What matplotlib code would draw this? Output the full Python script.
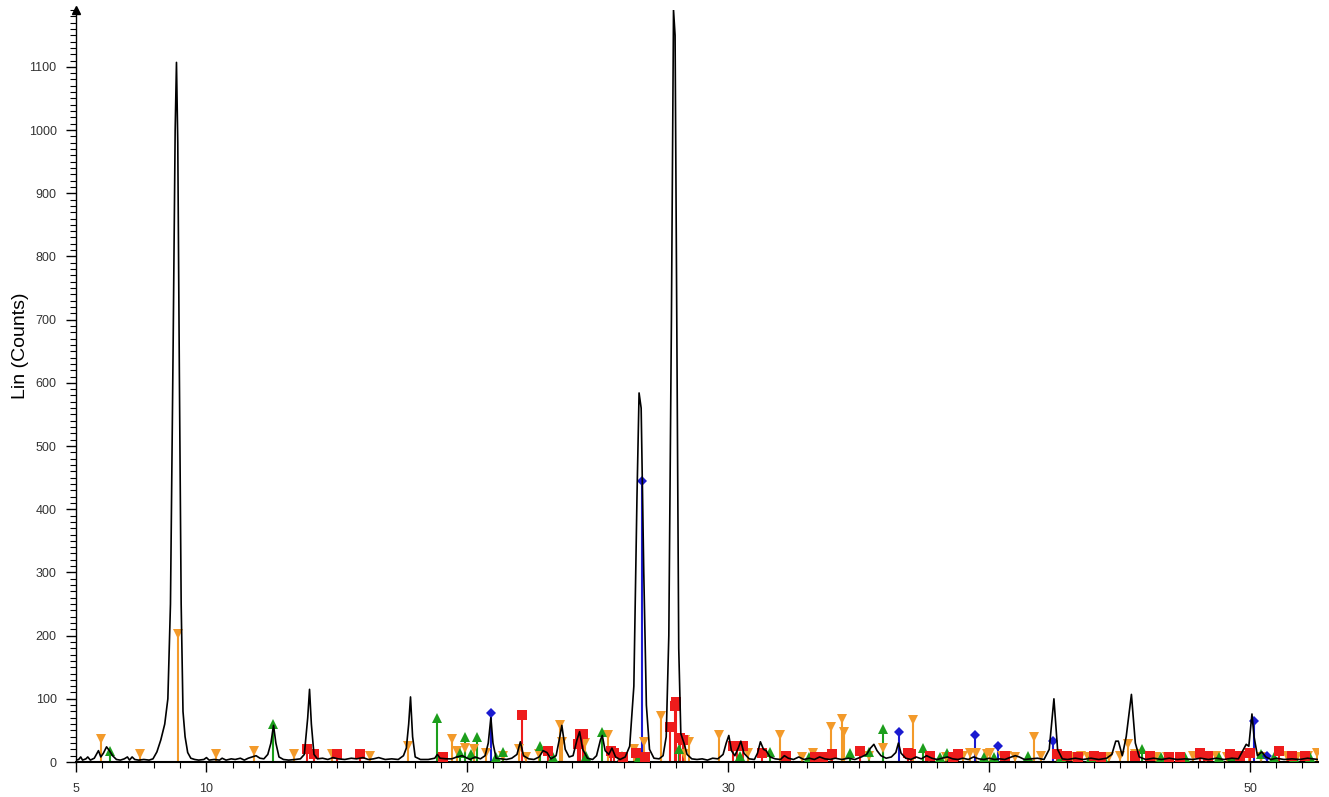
import matplotlib
matplotlib.use("Agg")
import matplotlib.pyplot as plt
from matplotlib.ticker import MultipleLocator, FixedLocator

plt.rcParams['font.family'] = ['Liberation Sans', 'DejaVu Sans']

# measured pattern (2theta, counts)
trace_2theta = [
    5.00, 5.10, 5.18, 5.25, 5.38, 5.45, 5.55, 5.70, 5.86, 5.95,
    6.05, 6.17, 6.28, 6.40, 6.55, 6.70, 6.85, 6.97, 7.05, 7.15,
    7.25, 7.40, 7.60, 7.80, 7.95, 8.10, 8.25, 8.40, 8.52, 8.62,
    8.72, 8.80, 8.85, 8.90, 8.96, 9.03, 9.10, 9.18, 9.28, 9.40,
    9.55, 9.70, 9.90, 10.00, 10.10, 10.30, 10.50, 10.60, 10.75, 10.95,
    11.10, 11.30, 11.45, 11.60, 11.75, 11.90, 12.05, 12.20, 12.35, 12.47,
    12.57, 12.66, 12.78, 12.95, 13.15, 13.40, 13.60, 13.75, 13.88, 13.95,
    14.02, 14.12, 14.25, 14.45, 14.65, 14.85, 15.05, 15.30, 15.55, 15.75,
    16.00, 16.20, 16.40, 16.60, 16.85, 17.10, 17.35, 17.55, 17.66, 17.75,
    17.82, 17.90, 18.00, 18.20, 18.50, 18.75, 18.85, 18.95, 19.20, 19.40,
    19.60, 19.80, 19.95, 20.10, 20.30, 20.50, 20.68, 20.80, 20.90, 20.98,
    21.10, 21.30, 21.50, 21.70, 21.90, 22.03, 22.15, 22.35, 22.55, 22.75,
    22.90, 23.05, 23.20, 23.40, 23.52, 23.62, 23.75, 23.90, 24.05, 24.20,
    24.30, 24.42, 24.60, 24.80, 24.95, 25.10, 25.17, 25.28, 25.42, 25.54,
    25.68, 25.85, 26.05, 26.22, 26.38, 26.50, 26.58, 26.66, 26.76, 26.86,
    26.98, 27.15, 27.35, 27.50, 27.62, 27.72, 27.82, 27.90, 27.96, 28.03,
    28.10, 28.18, 28.30, 28.42, 28.60, 28.80, 29.00, 29.20, 29.40, 29.60,
    29.80, 29.92, 30.02, 30.12, 30.25, 30.38, 30.48, 30.60, 30.80, 31.00,
    31.12, 31.23, 31.35, 31.45, 31.60, 31.80, 32.00, 32.15, 32.30, 32.50,
    32.70, 32.90, 33.10, 33.30, 33.50, 33.70, 33.90, 34.10, 34.35, 34.60,
    34.85, 35.10, 35.30, 35.45, 35.58, 35.70, 35.85, 36.05, 36.25, 36.42,
    36.52, 36.62, 36.80, 37.00, 37.20, 37.40, 37.60, 37.80, 38.00, 38.20,
    38.40, 38.60, 38.80, 39.00, 39.20, 39.40, 39.60, 39.80, 40.00, 40.20,
    40.40, 40.60, 40.85, 41.00, 41.15, 41.35, 41.60, 41.85, 42.10, 42.30,
    42.48, 42.62, 42.80, 43.00, 43.30, 43.60, 43.90, 44.20, 44.50, 44.70,
    44.85, 44.95, 45.10, 45.25, 45.45, 45.60, 45.75, 46.00, 46.30, 46.60,
    46.90, 47.20, 47.50, 47.80, 48.10, 48.40, 48.70, 49.00, 49.30, 49.55,
    49.72, 49.85, 49.95, 50.07, 50.15, 50.28, 50.45, 50.60, 50.80, 51.00,
    51.30, 51.60, 51.90, 52.20, 52.60,
]
trace_counts = [
    3, 4, 8, 3, 5, 8, 3, 6, 18, 8,
    14, 24, 18, 10, 4, 3, 5, 8, 3, 8,
    4, 3, 4, 3, 5, 16, 35, 60, 100, 250,
    650, 1000, 1107, 980, 620, 250, 80, 40, 15, 6,
    4, 3, 4, 7, 3, 4, 3, 6, 3, 5,
    4, 6, 3, 6, 8, 10, 6, 5, 12, 30,
    58, 30, 8, 4, 3, 4, 5, 12, 70, 115,
    60, 12, 5, 6, 4, 7, 5, 4, 6, 5,
    7, 4, 5, 7, 4, 5, 4, 10, 22, 60,
    103, 40, 8, 4, 4, 6, 12, 6, 5, 5,
    8, 10, 7, 4, 8, 5, 10, 30, 70, 30,
    6, 5, 4, 6, 12, 32, 10, 5, 4, 8,
    18, 15, 5, 10, 35, 58, 20, 8, 10, 35,
    48, 20, 6, 4, 10, 35, 42, 18, 12, 22,
    8, 4, 8, 25, 120, 420, 584, 560, 300, 90,
    20, 6, 5, 10, 40, 200, 700, 1190, 1150, 650,
    180, 45, 30, 12, 5, 4, 5, 3, 6, 5,
    12, 30, 42, 18, 10, 22, 33, 14, 5, 4,
    14, 32, 20, 18, 8, 5, 4, 10, 6, 4,
    8, 4, 6, 4, 8, 5, 4, 6, 4, 6,
    4, 8, 12, 22, 28, 18, 10, 6, 8, 15,
    30, 14, 6, 4, 8, 5, 10, 6, 4, 6,
    8, 5, 4, 6, 4, 8, 5, 4, 6, 4,
    5, 4, 8, 10, 8, 4, 5, 6, 4, 20,
    100, 20, 5, 4, 6, 4, 6, 4, 6, 12,
    33, 33, 10, 40, 107, 30, 8, 4, 6, 4,
    6, 4, 5, 4, 6, 4, 6, 4, 6, 5,
    18, 28, 25, 76, 40, 10, 16, 8, 4, 6,
    4, 5, 4, 6, 4,
]

# reference sticks per phase
orange_pos = [5.97, 7.44, 8.90, 10.37, 11.84, 13.34, 14.80, 16.28, 17.74, 19.41,
              19.60, 19.90, 20.27, 20.73, 21.35, 21.98, 22.25, 22.73, 23.56, 23.62,
              24.50, 25.38, 26.37, 26.78, 27.42, 28.30, 28.34, 28.50, 29.63, 30.77,
              31.99, 32.82, 33.24, 33.95, 34.35, 34.44, 35.40, 35.93, 37.06, 37.70,
              38.35, 39.00, 39.25, 39.50, 39.90, 40.04, 40.50, 40.70, 41.00, 41.72,
              42.00, 42.90, 43.20, 43.50, 43.80, 44.10, 44.60, 45.00, 45.30, 45.60,
              46.40, 46.80, 47.30, 47.80, 48.30, 48.70, 49.10, 49.60, 49.95, 50.40,
              51.40, 51.80, 52.20, 52.55]
orange_int = [37, 13, 202, 13, 17, 12, 12, 9, 25, 36,
              18, 22, 20, 15, 10, 20, 8, 12, 58, 32,
              30, 42, 20, 32, 73, 12, 35, 32, 42, 14,
              42, 8, 14, 55, 68, 48, 10, 22, 67, 8,
              8, 10, 15, 14, 12, 15, 10, 10, 8, 40,
              10, 10, 8, 10, 8, 8, 8, 10, 28, 12,
              8, 8, 8, 10, 8, 10, 8, 10, 12, 8,
              10, 8, 10, 14]

green_pos = [6.32, 12.54, 18.84, 19.73, 19.90, 20.14, 20.35, 21.10, 21.35, 22.77,
             23.30, 24.55, 25.17, 25.93, 26.56, 28.10, 30.45, 31.60, 33.10, 34.67,
             35.38, 35.93, 37.46, 38.10, 38.38, 39.80, 40.20, 41.50, 42.75, 43.90,
             44.37, 45.85, 46.60, 47.50, 48.80, 49.30, 50.40, 50.90, 51.70, 52.30]
green_int = [18, 60, 70, 15, 40, 12, 40, 8, 16, 26,
             8, 10, 47, 10, 8, 20, 10, 16, 8, 14,
             16, 52, 22, 8, 14, 8, 8, 10, 8, 8,
             8, 20, 8, 8, 8, 10, 12, 8, 8, 8]

red_pos = [13.87, 14.14, 15.02, 15.90, 19.08, 22.09, 23.09, 24.24, 24.33, 24.43,
           25.52, 25.60, 25.96, 26.47, 26.80, 27.78, 27.94, 28.00, 28.15, 28.25,
           30.18, 30.33, 30.58, 31.29, 32.20, 33.33, 33.64, 33.97, 35.03, 36.89,
           37.00, 37.74, 38.60, 38.82, 40.60, 42.60, 43.00, 43.40, 44.00, 44.30,
           45.60, 46.17, 46.90, 47.30, 48.08, 48.40, 49.23, 49.60, 50.00, 51.12,
           51.60, 52.10]
red_int = [20, 12, 12, 12, 8, 75, 18, 28, 45, 45,
           18, 15, 8, 15, 8, 55, 88, 95, 38, 35,
           26, 26, 26, 14, 10, 8, 8, 12, 18, 15,
           12, 10, 8, 12, 10, 12, 10, 8, 10, 8,
           10, 10, 8, 8, 15, 10, 12, 10, 14, 18,
           10, 10]

blue_pos = [20.92, 26.68, 36.55, 39.46, 40.32, 42.45, 50.15, 50.64]
blue_int = [78, 445, 47, 42, 25, 33, 65, 10]

phases = [
    (orange_pos, orange_int, '#f39a2a', 'v', 7.5),
    (green_pos, green_int, '#1c9e1c', '^', 7.5),
    (red_pos, red_int, '#ee1c1c', 's', 6.5),
    (blue_pos, blue_int, '#1a1ad0', 'D', 5),
]

fig = plt.figure(figsize=(13.29, 7.97), dpi=100)
ax = fig.add_axes([0.0572, 0.0439, 0.9345, 0.9436])

for pos, inten, col, mk, ms in phases:
    ax.vlines(pos, 0, inten, colors=col, linewidth=1.5, zorder=2)
    ax.plot(pos, inten, linestyle='none', marker=mk, color=col,
            markersize=ms, markeredgewidth=0, zorder=3)

ax.plot(trace_2theta, trace_counts, color='black', linewidth=1.2, zorder=4)

ax.set_xlim(5, 52.6)
ax.set_ylim(0, 1190)

ax.spines['top'].set_visible(False)
ax.spines['right'].set_visible(False)
ax.spines['left'].set_linewidth(1.0)
ax.spines['bottom'].set_linewidth(1.5)

ax.xaxis.set_major_locator(FixedLocator([5, 10, 20, 30, 40, 50]))
ax.xaxis.set_minor_locator(MultipleLocator(1))
ax.yaxis.set_major_locator(MultipleLocator(100))
ax.yaxis.set_minor_locator(MultipleLocator(10))
ax.tick_params(axis='both', which='major', length=7, width=1, labelsize=9,
               colors='black', labelcolor='#333333')
ax.tick_params(axis='both', which='minor', length=4, width=0.8)
ax.tick_params(axis='x', which='major', pad=8)
ax.tick_params(axis='y', which='major', pad=7)

ax.set_ylabel('Lin (Counts)', fontsize=14)
ax.yaxis.set_label_coords(-0.038, 0.553)

# arrow head on the y axis
ax.plot([0], [1], marker='^', color='black', markersize=6,
        transform=ax.transAxes, clip_on=False, zorder=5)

fig.savefig('out.png', dpi=100)
